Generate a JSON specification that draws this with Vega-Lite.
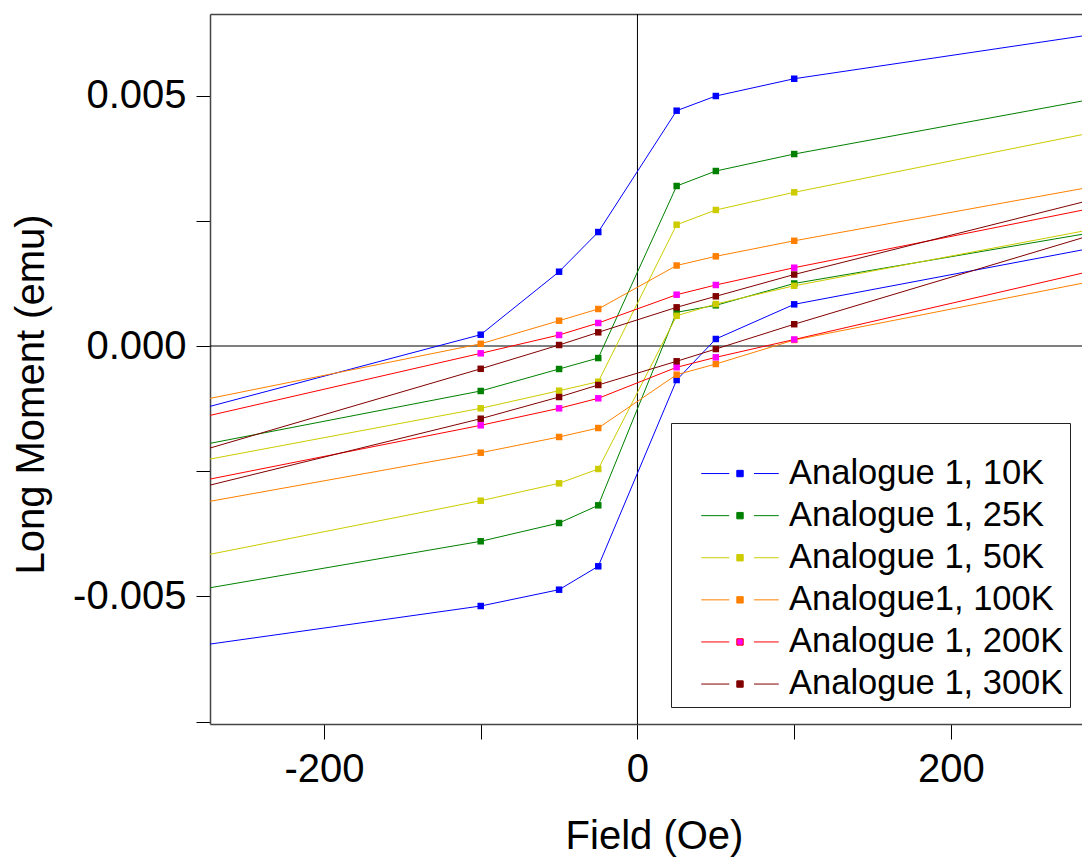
{
  "$schema": "https://vega.github.io/schema/vega-lite/v6.json",
  "width": 872,
  "height": 710,
  "autosize": "none",
  "padding": {"left": 210, "top": 14, "right": 0, "bottom": 134},
  "background": "white",
  "config": {"view": {"stroke": null}, "font": "Liberation Sans", "axis": {"grid": false}},
  "data": {"values": [
    {"series": "Analogue 1, 10K", "branch": "down", "H": 300, "M": 0.006263},
    {"series": "Analogue 1, 10K", "branch": "down", "H": 100, "M": 0.005335},
    {"series": "Analogue 1, 10K", "branch": "down", "H": 50, "M": 0.004990},
    {"series": "Analogue 1, 10K", "branch": "down", "H": 25, "M": 0.004697},
    {"series": "Analogue 1, 10K", "branch": "down", "H": -25, "M": 0.002275},
    {"series": "Analogue 1, 10K", "branch": "down", "H": -50, "M": 0.001483},
    {"series": "Analogue 1, 10K", "branch": "down", "H": -100, "M": 0.000226},
    {"series": "Analogue 1, 10K", "branch": "down", "H": -300, "M": -0.001431},
    {"series": "Analogue 1, 10K", "branch": "up", "H": -300, "M": -0.006070},
    {"series": "Analogue 1, 10K", "branch": "up", "H": -100, "M": -0.005190},
    {"series": "Analogue 1, 10K", "branch": "up", "H": -50, "M": -0.004864},
    {"series": "Analogue 1, 10K", "branch": "up", "H": -25, "M": -0.004397},
    {"series": "Analogue 1, 10K", "branch": "up", "H": 25, "M": -0.000679},
    {"series": "Analogue 1, 10K", "branch": "up", "H": 50, "M": 0.000140},
    {"series": "Analogue 1, 10K", "branch": "up", "H": 100, "M": 0.000832},
    {"series": "Analogue 1, 10K", "branch": "up", "H": 300, "M": 0.002014},

    {"series": "Analogue 1, 25K", "branch": "down", "H": 300, "M": 0.004984},
    {"series": "Analogue 1, 25K", "branch": "down", "H": 100, "M": 0.003832},
    {"series": "Analogue 1, 25K", "branch": "down", "H": 50, "M": 0.003493},
    {"series": "Analogue 1, 25K", "branch": "down", "H": 25, "M": 0.003194},
    {"series": "Analogue 1, 25K", "branch": "down", "H": -25, "M": -0.000240},
    {"series": "Analogue 1, 25K", "branch": "down", "H": -50, "M": -0.000459},
    {"series": "Analogue 1, 25K", "branch": "down", "H": -100, "M": -0.000898},
    {"series": "Analogue 1, 25K", "branch": "down", "H": -300, "M": -0.002108},
    {"series": "Analogue 1, 25K", "branch": "up", "H": -300, "M": -0.004972},
    {"series": "Analogue 1, 25K", "branch": "up", "H": -100, "M": -0.003898},
    {"series": "Analogue 1, 25K", "branch": "up", "H": -50, "M": -0.003533},
    {"series": "Analogue 1, 25K", "branch": "up", "H": -25, "M": -0.003180},
    {"series": "Analogue 1, 25K", "branch": "up", "H": 25, "M": 0.000673},
    {"series": "Analogue 1, 25K", "branch": "up", "H": 50, "M": 0.000812},
    {"series": "Analogue 1, 25K", "branch": "up", "H": 100, "M": 0.001248},
    {"series": "Analogue 1, 25K", "branch": "up", "H": 300, "M": 0.002317},

    {"series": "Analogue 1, 50K", "branch": "down", "H": 300, "M": 0.004321},
    {"series": "Analogue 1, 50K", "branch": "down", "H": 100, "M": 0.003068},
    {"series": "Analogue 1, 50K", "branch": "down", "H": 50, "M": 0.002715},
    {"series": "Analogue 1, 50K", "branch": "down", "H": 25, "M": 0.002421},
    {"series": "Analogue 1, 50K", "branch": "down", "H": -25, "M": -0.000713},
    {"series": "Analogue 1, 50K", "branch": "down", "H": -50, "M": -0.000892},
    {"series": "Analogue 1, 50K", "branch": "down", "H": -100, "M": -0.001244},
    {"series": "Analogue 1, 50K", "branch": "down", "H": -300, "M": -0.002417},
    {"series": "Analogue 1, 50K", "branch": "up", "H": -300, "M": -0.004327},
    {"series": "Analogue 1, 50K", "branch": "up", "H": -100, "M": -0.003088},
    {"series": "Analogue 1, 50K", "branch": "up", "H": -50, "M": -0.002741},
    {"series": "Analogue 1, 50K", "branch": "up", "H": -25, "M": -0.002455},
    {"series": "Analogue 1, 50K", "branch": "up", "H": 25, "M": 0.000603},
    {"series": "Analogue 1, 50K", "branch": "up", "H": 50, "M": 0.000838},
    {"series": "Analogue 1, 50K", "branch": "up", "H": 100, "M": 0.001202},
    {"series": "Analogue 1, 50K", "branch": "up", "H": 300, "M": 0.002387},

    {"series": "Analogue1, 100K", "branch": "down", "H": 300, "M": 0.003234},
    {"series": "Analogue1, 100K", "branch": "down", "H": 100, "M": 0.002100},
    {"series": "Analogue1, 100K", "branch": "down", "H": 50, "M": 0.001790},
    {"series": "Analogue1, 100K", "branch": "down", "H": 25, "M": 0.001607},
    {"series": "Analogue1, 100K", "branch": "down", "H": -25, "M": 0.000739},
    {"series": "Analogue1, 100K", "branch": "down", "H": -50, "M": 0.000505},
    {"series": "Analogue1, 100K", "branch": "down", "H": -100, "M": 0.000044},
    {"series": "Analogue1, 100K", "branch": "down", "H": -300, "M": -0.001218},
    {"series": "Analogue1, 100K", "branch": "up", "H": -300, "M": -0.003253},
    {"series": "Analogue1, 100K", "branch": "up", "H": -100, "M": -0.002130},
    {"series": "Analogue1, 100K", "branch": "up", "H": -50, "M": -0.001816},
    {"series": "Analogue1, 100K", "branch": "up", "H": -25, "M": -0.001637},
    {"series": "Analogue1, 100K", "branch": "up", "H": 25, "M": -0.000573},
    {"series": "Analogue1, 100K", "branch": "up", "H": 50, "M": -0.000359},
    {"series": "Analogue1, 100K", "branch": "up", "H": 100, "M": 0.000120},
    {"series": "Analogue1, 100K", "branch": "up", "H": 300, "M": 0.001353},

    {"series": "Analogue 1, 200K", "branch": "down", "H": 300, "M": 0.002812},
    {"series": "Analogue 1, 200K", "branch": "down", "H": 100, "M": 0.001563},
    {"series": "Analogue 1, 200K", "branch": "down", "H": 50, "M": 0.001218},
    {"series": "Analogue 1, 200K", "branch": "down", "H": 25, "M": 0.001024},
    {"series": "Analogue 1, 200K", "branch": "down", "H": -25, "M": 0.000459},
    {"series": "Analogue 1, 200K", "branch": "down", "H": -50, "M": 0.000220},
    {"series": "Analogue 1, 200K", "branch": "down", "H": -100, "M": -0.000146},
    {"series": "Analogue 1, 200K", "branch": "down", "H": -300, "M": -0.001581},
    {"series": "Analogue 1, 200K", "branch": "up", "H": -300, "M": -0.002826},
    {"series": "Analogue 1, 200K", "branch": "up", "H": -100, "M": -0.001583},
    {"series": "Analogue 1, 200K", "branch": "up", "H": -50, "M": -0.001244},
    {"series": "Analogue 1, 200K", "branch": "up", "H": -25, "M": -0.001044},
    {"series": "Analogue 1, 200K", "branch": "up", "H": 25, "M": -0.000425},
    {"series": "Analogue 1, 200K", "branch": "up", "H": 50, "M": -0.000226},
    {"series": "Analogue 1, 200K", "branch": "up", "H": 100, "M": 0.000130},
    {"series": "Analogue 1, 200K", "branch": "up", "H": 300, "M": 0.001571},

    {"series": "Analogue 1, 300K", "branch": "down", "H": 300, "M": 0.002998},
    {"series": "Analogue 1, 300K", "branch": "down", "H": 100, "M": 0.001427},
    {"series": "Analogue 1, 300K", "branch": "down", "H": 50, "M": 0.000992},
    {"series": "Analogue 1, 300K", "branch": "down", "H": 25, "M": 0.000772},
    {"series": "Analogue 1, 300K", "branch": "down", "H": -25, "M": 0.000273},
    {"series": "Analogue 1, 300K", "branch": "down", "H": -50, "M": 0.000020},
    {"series": "Analogue 1, 300K", "branch": "down", "H": -100, "M": -0.000455},
    {"series": "Analogue 1, 300K", "branch": "down", "H": -300, "M": -0.002287},
    {"series": "Analogue 1, 300K", "branch": "up", "H": -300, "M": -0.002986},
    {"series": "Analogue 1, 300K", "branch": "up", "H": -100, "M": -0.001451},
    {"series": "Analogue 1, 300K", "branch": "up", "H": -50, "M": -0.001018},
    {"series": "Analogue 1, 300K", "branch": "up", "H": -25, "M": -0.000778},
    {"series": "Analogue 1, 300K", "branch": "up", "H": 25, "M": -0.000305},
    {"series": "Analogue 1, 300K", "branch": "up", "H": 50, "M": -0.000060},
    {"series": "Analogue 1, 300K", "branch": "up", "H": 100, "M": 0.000435},
    {"series": "Analogue 1, 300K", "branch": "up", "H": 300, "M": 0.002311}
  ]},
  "resolve": {"axis": {"x": "independent", "y": "independent"}},
  "layer": [
    {
      "data": {"values": [{"z": 0}]},
      "mark": {"type": "rule", "color": "black", "strokeWidth": 1},
      "encoding": {
        "x": {"datum": 0, "type": "quantitative",
              "scale": {"domain": [-272.7, 283.6], "nice": false, "zero": false},
              "axis": {"orient": "top", "ticks": false, "labels": false, "title": null,
                       "domainColor": "#444", "domainWidth": 1.5}}
      }
    },
    {
      "data": {"values": [{"z": 0}]},
      "mark": {"type": "rule", "color": "black", "strokeWidth": 1},
      "encoding": {
        "y": {"datum": 0, "type": "quantitative",
              "scale": {"domain": [-0.007545, 0.006627], "nice": false, "zero": false},
              "axis": null}
      }
    },
    {
      "mark": {"type": "line", "strokeWidth": 1, "clip": true},
      "encoding": {
        "x": {"field": "H", "type": "quantitative",
              "scale": {"domain": [-272.7, 283.6], "nice": false, "zero": false},
              "axis": {"orient": "bottom", "values": [-200, -100, 0, 100, 200],
                       "tickSize": 15, "tickColor": "black", "tickWidth": 1,
                       "domainColor": "#444", "domainWidth": 1.5,
                       "labelFontSize": 40, "labelColor": "black", "labelPadding": 10,
                       "labelOverlap": false, "labelFlush": false,
                       "labelExpr": "datum.value % 200 === 0 ? '' + datum.value : ''",
                       "title": "Field (Oe)", "titleFontSize": 40, "titleFontWeight": "normal",
                       "titleColor": "black", "titleX": 444, "titleY": 124,
                       "titleBaseline": "alphabetic", "titleAlign": "center",
                       "encode": {"ticks": {"update": {"y2": {"signal": "datum.value % 200 === 0 ? 15 : 8"}}}}}},
        "y": {"field": "M", "type": "quantitative",
              "scale": {"domain": [-0.007545, 0.006627], "nice": false, "zero": false},
              "axis": {"orient": "left", "values": [-0.0075, -0.005, -0.0025, 0, 0.0025, 0.005],
                       "tickSize": 14, "tickColor": "black", "tickWidth": 1,
                       "domainColor": "#444", "domainWidth": 1.5,
                       "labelFontSize": 40, "labelColor": "black", "labelPadding": 10,
                       "labelOverlap": false, "labelFlush": false,
                       "labelExpr": "abs(datum.value) < 1e-9 ? '0.000' : (abs(abs(datum.value) - 0.005) < 1e-9 ? (datum.value < 0 ? '-0.005' : '0.005') : '')",
                       "title": "Long Moment (emu)", "titleFontSize": 40, "titleFontWeight": "normal",
                       "titleColor": "black", "titleX": -166.5, "titleY": 380, "titleAngle": 270,
                       "titleBaseline": "alphabetic", "titleAlign": "center",
                       "encode": {"ticks": {"update": {"x2": {"signal": "(abs(datum.value) < 1e-9 || abs(abs(datum.value) - 0.005) < 1e-9) ? -14 : -7"}}}}}},
        "stroke": {"field": "series", "type": "nominal",
                   "scale": {"domain": ["Analogue 1, 10K", "Analogue 1, 25K", "Analogue 1, 50K", "Analogue1, 100K", "Analogue 1, 200K", "Analogue 1, 300K"],
                             "range": ["#0000FF", "#008000", "#CCCC00", "#FF8000", "#FF0000", "#800000"]},
                   "legend": {"orient": "none", "legendX": 461, "legendY": 409,
                              "title": " ", "titleFontSize": 20, "titlePadding": 7.3,
                              "padding": 6, "strokeColor": "#222", "fillColor": "white",
                              "symbolType": "M-7.75,0H-2.15M2.8,0H7.75M-0.64,-0.64H0.64V0.64H-0.64Z",
                              "symbolSize": 100, "symbolStrokeWidth": 1, "symbolOffset": 45.75,
                              "labelOffset": 31.75, "labelFontSize": 34.5, "labelLimit": 600,
                              "labelColor": "black", "rowPadding": 7.1,
                              "encode": {"symbols": {"update": {"fill": {"scale": "fill", "field": "value"}, "opacity": {"value": 1}}}}}},
        "detail": {"field": "branch"}
      }
    },
    {
      "mark": {"type": "square", "size": 42, "opacity": 1, "filled": true, "clip": true, "strokeWidth": 0},
      "encoding": {
        "x": {"field": "H", "type": "quantitative",
              "scale": {"domain": [-272.7, 283.6], "nice": false, "zero": false}, "axis": null},
        "y": {"field": "M", "type": "quantitative",
              "scale": {"domain": [-0.007545, 0.006627], "nice": false, "zero": false}, "axis": null},
        "fill": {"field": "series", "type": "nominal",
                 "scale": {"domain": ["Analogue 1, 10K", "Analogue 1, 25K", "Analogue 1, 50K", "Analogue1, 100K", "Analogue 1, 200K", "Analogue 1, 300K"],
                           "range": ["#0000FF", "#008000", "#CCCC00", "#FF8000", "#FF00FF", "#800000"]},
                 "legend": null}
      }
    }
  ]
}
